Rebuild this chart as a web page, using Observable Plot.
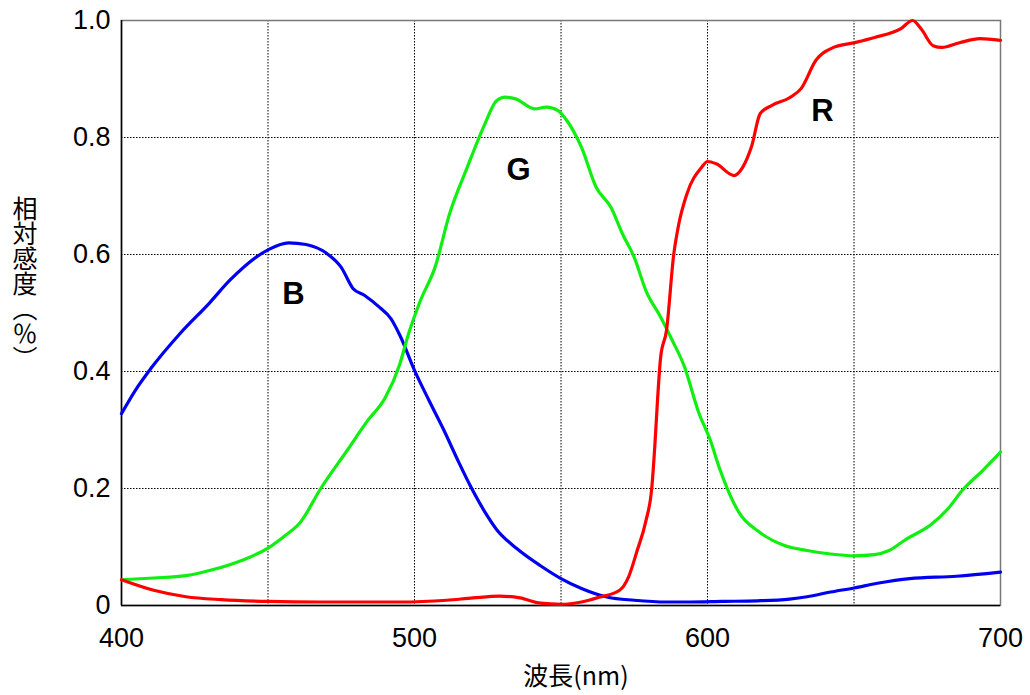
<!DOCTYPE html>
<html><head><meta charset="utf-8">
<script src="https://cdn.jsdelivr.net/npm/d3@7"></script>
<script src="https://cdn.jsdelivr.net/npm/@observablehq/plot@0.6"></script>
<style>
body{margin:0;background:#fff;}
#wrap{position:relative;width:1030px;height:695px;}
#ylab{position:absolute;left:12px;top:196px;writing-mode:vertical-rl;text-orientation:mixed;font-family:"Noto Sans CJK JP";font-size:25px;line-height:1;color:#000;}
</style></head><body><div id="wrap"><div id="ylab">相対感度（％）</div></div>
<script>
// Blue (B) channel
const blueWl  = [400,405,410,420,430,437,450,457,463,470,475,479,483,488,492,495,500,505,510,515,519,524,528,535,543,550,557,566,575,586,594,605,617,628,634,642,650,658,669,685,700];
const blueVal = [0.328,0.37,0.405,0.465,0.517,0.556,0.608,0.62,0.617,0.602,0.578,0.542,0.53,0.51,0.49,0.462,0.402,0.35,0.3,0.246,0.205,0.16,0.13,0.097,0.068,0.046,0.029,0.014,0.009,0.006,0.006,0.007,0.008,0.011,0.015,0.023,0.03,0.038,0.046,0.05,0.057];
// Green (G) channel
const greenWl  = [400,411,422,431,441,450,456,461,468,477,484,490,495,498,502,507,512,518,524,528,531,534.5,541,545,549,552,557,562,567,571,575,579,584,588,592,597,601,604,607,611,617,626,634,642,650,657,662,668,676,682,687,694,700];
const greenVal = [0.044,0.047,0.051,0.061,0.077,0.098,0.12,0.142,0.2,0.265,0.316,0.355,0.413,0.465,0.521,0.578,0.67,0.749,0.823,0.863,0.869,0.866,0.849,0.852,0.846,0.829,0.783,0.715,0.681,0.635,0.595,0.538,0.493,0.453,0.41,0.33,0.282,0.236,0.197,0.157,0.128,0.103,0.094,0.088,0.085,0.087,0.094,0.114,0.137,0.165,0.197,0.231,0.262];
// Red (R) channel
const redWl  = [400,411,422,434,450,468,495,511,520,529,536,543,550,557,563,570,573,576,579,581,582,583,584,586,588.5,590,593,598,600,603,609,612,615,618,622,628,632,637,643,650,657,666,670,673,677,680,686,693,700];
const redVal = [0.044,0.026,0.015,0.01,0.007,0.006,0.006,0.009,0.013,0.016,0.013,0.004,0.002,0.006,0.014,0.026,0.048,0.094,0.145,0.202,0.271,0.356,0.424,0.47,0.601,0.647,0.704,0.749,0.759,0.755,0.735,0.749,0.784,0.841,0.855,0.868,0.884,0.932,0.954,0.962,0.971,0.986,1.0,0.985,0.957,0.954,0.962,0.969,0.966];

const seriesNames  = ["B","G","R"];
const seriesColors = ["#0000f0","#11ee11","#ff0000"];
// label anchor positions (data units)
const labelWl  = [458.7,535.5,639.2];
const labelVal = [0.533,0.744,0.846];

const xTicks = [400,500,600,700];
const xTickLabels = ["400","500","600","700"];
const yTicks = [0,0.2,0.4,0.6,0.8,1.0];
const yTickLabels = ["0","0.2","0.4","0.6","0.8","1.0"];
const gridXValues = [450,500,550,600,650];
const gridYValues = [0.2,0.4,0.6,0.8];
const xLabel = "波長(nm)";

const rows = [];
[[blueWl,blueVal],[greenWl,greenVal],[redWl,redVal]].forEach(([w,v],k)=>{
  w.forEach((wl,i)=>rows.push({series:seriesNames[k], wl, v:v[i]}));
});
const labels = seriesNames.map((s,i)=>({s, wl:labelWl[i], v:labelVal[i]}));

const chart = Plot.plot({
  width:1030, height:695,
  marginLeft:121, marginRight:30, marginTop:20, marginBottom:90,
  x:{domain:[400,700]},
  y:{domain:[0,1]},
  color:{domain:seriesNames, range:seriesColors},
  style:{fontFamily:"'Liberation Sans', Arial, sans-serif", fontSize:"27px", background:"#fff", color:"#000"},
  marks:[
    Plot.gridX(gridXValues, {stroke:"#000", strokeOpacity:1, strokeDasharray:"1.5,1.5"}),
    Plot.gridY(gridYValues, {stroke:"#000", strokeOpacity:1, strokeDasharray:"1.5,1.5"}),
    Plot.frame({stroke:"#777", strokeWidth:1.5}),
    Plot.ruleX([400], {stroke:"#000", strokeWidth:1.5}),
    Plot.ruleY([0], {stroke:"#000", strokeWidth:1.5}),
    Plot.line(rows, {x:"wl", y:"v", z:"series", stroke:"series", strokeWidth:3.2, curve:"monotone-x"}),
    Plot.text(labels, {x:"wl", y:"v", text:"s", fontSize:31, fontWeight:"bold", fontFamily:"'Liberation Sans', Arial, sans-serif"}),
    Plot.axisX(xTicks, {tickSize:0, tickPadding:22, label:null, fontSize:27, tickFormat:d=>xTickLabels[xTicks.indexOf(d)]}),
    Plot.axisY(yTicks, {tickSize:0, tickPadding:11, label:null, fontSize:27, tickFormat:d=>yTickLabels[yTicks.indexOf(d)]}),
    Plot.text([xLabel], {text:d=>d, frameAnchor:"bottom", dx:15, dy:71, lineAnchor:"middle", fontSize:25, fontFamily:"'Noto Sans CJK JP'"})
  ]
});
document.getElementById("wrap").appendChild(chart);
chart.style.position="absolute"; chart.style.left="0"; chart.style.top="0";
document.getElementById("ylab").style.zIndex="2";
</script>
</body></html>
